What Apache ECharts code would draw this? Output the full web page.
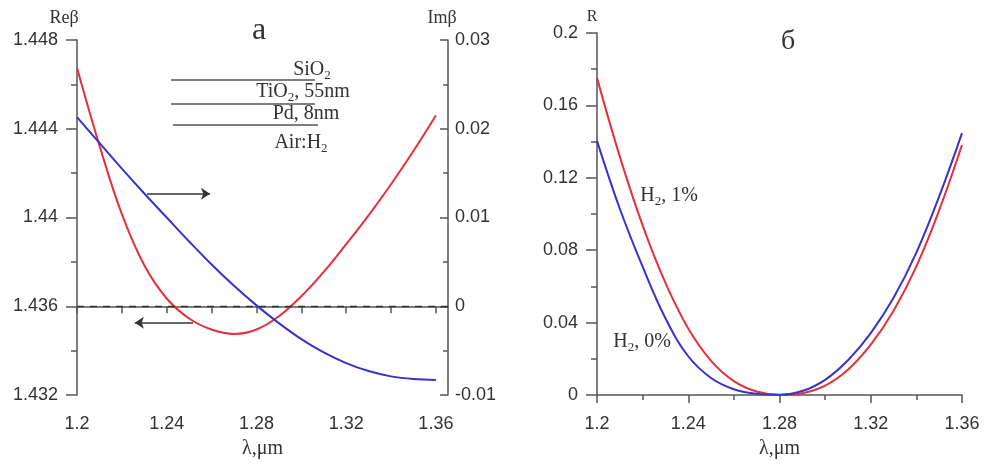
<!DOCTYPE html>
<html>
<head>
<meta charset="utf-8">
<script src="https://cdn.jsdelivr.net/npm/echarts@6/dist/echarts.min.js"></script>
<style>
html, body { margin: 0; padding: 0; background: #fff; }
#chart { width: 985px; height: 464px; }
</style>
</head>
<body>
<div id="chart"></div>
<script>
// wavelength, um (shared by all curves)
const lambda = [1.20, 1.21, 1.22, 1.23, 1.24, 1.25, 1.26, 1.27, 1.28, 1.29, 1.30, 1.31, 1.32, 1.33, 1.34, 1.35, 1.36]
// panel a
const reBeta = [1.44675, 1.44325, 1.44015, 1.43785, 1.43635, 1.43545, 1.43495, 1.43475, 1.43495, 1.43555, 1.43645, 1.43755, 1.43880, 1.44010, 1.44150, 1.44300, 1.44460]
const imBeta = [0.0213, 0.0184, 0.0155, 0.0127, 0.0100, 0.0073, 0.0047, 0.0023, 0.0001, -0.0019, -0.0037, -0.0052, -0.0064, -0.0073, -0.0079, -0.0082, -0.0083]
// panel б
const rH2_1 = [0.1752, 0.1317, 0.0937, 0.0619, 0.0367, 0.0189, 0.0077, 0.0019, 0.0000, 0.0010, 0.0052, 0.0140, 0.0278, 0.0466, 0.0711, 0.1021, 0.1381]
const rH2_0 = [0.1404, 0.1029, 0.0709, 0.0424, 0.0214, 0.0094, 0.0032, 0.0007, 0.0002, 0.0022, 0.0084, 0.0192, 0.0342, 0.0537, 0.0787, 0.1097, 0.1447]
// tick labels
const xLabels = [1.2, 1.24, 1.28, 1.32, 1.36]
const xTicks = [1.2, 1.22, 1.24, 1.26, 1.28, 1.30, 1.32, 1.34, 1.36]

const RED = '#e5303c'
const BLUE = '#3a32c8'
const AXIS = '#555'
const SANS = 'Liberation Sans, Arial, sans-serif'
const SERIF = 'Liberation Serif, Times New Roman, serif'

const pairs = (ys) => lambda.map((l, i) => [l, ys[i]])

const axisLine = { show: true, lineStyle: { color: AXIS, width: 1.5 } }
const tickStyle = { color: AXIS, width: 1.5 }
const labelStyle = { color: '#333', fontSize: 18, fontFamily: SANS }
const nameStyle = { color: '#333', fontSize: 20, fontFamily: SERIF }

const sub = (x, y, parts) => ({
  type: 'text', x: x, y: y,
  style: {
    text: parts, textAlign: 'center', textVerticalAlign: 'middle', fill: '#333',
    rich: {
      n: { fontSize: 20, fontFamily: SERIF, lineHeight: 24, fill: '#333' },
      s: { fontSize: 13, fontFamily: SERIF, lineHeight: 12, verticalAlign: 'bottom', fill: '#333' }
    }
  }
})
const txt = (x, y, t, size) => ({
  type: 'text', x: x, y: y,
  style: { text: t, textAlign: 'center', textVerticalAlign: 'middle', fill: '#333', font: size + 'px ' + SERIF }
})
const hline = (x1, x2, y) => ({
  type: 'line', shape: { x1: x1, y1: y, x2: x2, y2: y },
  style: { stroke: AXIS, lineWidth: 1.5 }
})

var myChart = echarts.init(document.getElementById('chart'))
let option = {
  animation: false,
  grid: [
    { left: 77, top: 40, width: 371, height: 358 },
    { left: 597, top: 33, width: 365, height: 365 }
  ],
  xAxis: [
    {
      gridIndex: 0, type: 'value', min: 1.2, max: 1.3654,
      axisLine: axisLine,
      axisTick: { show: true, customValues: xTicks, length: 7, lineStyle: tickStyle },
      axisLabel: Object.assign({ customValues: xLabels, margin: 20 }, labelStyle),
      splitLine: { show: false },
      name: 'λ,μm', nameLocation: 'middle', nameGap: 44, nameTextStyle: nameStyle
    },
    {
      gridIndex: 1, type: 'value', min: 1.2, max: 1.36, interval: 0.04,
      axisLine: axisLine,
      axisTick: { show: true, length: 8, lineStyle: tickStyle },
      minorTick: { show: true, splitNumber: 2, length: 5, lineStyle: tickStyle },
      axisLabel: Object.assign({ margin: 20 }, labelStyle),
      splitLine: { show: false },
      name: 'λ,μm', nameLocation: 'middle', nameGap: 44, nameTextStyle: nameStyle
    }
  ],
  yAxis: [
    {
      gridIndex: 0, type: 'value', min: 1.432, max: 1.448, interval: 0.004,
      axisLine: axisLine,
      axisTick: { show: true, length: 11, lineStyle: tickStyle },
      minorTick: { show: true, splitNumber: 2, length: 6, lineStyle: tickStyle },
      axisLabel: Object.assign({ margin: 19 }, labelStyle),
      splitLine: { show: false }
    },
    {
      gridIndex: 0, type: 'value', position: 'right', min: -0.01, max: 0.03, interval: 0.01,
      axisLine: axisLine,
      axisTick: { show: true, inside: true, length: 8, lineStyle: tickStyle },
      minorTick: { show: true, splitNumber: 2, length: 5, lineStyle: tickStyle },
      axisLabel: Object.assign({ margin: 7 }, labelStyle),
      splitLine: { show: false }
    },
    {
      gridIndex: 1, type: 'value', min: 0, max: 0.2, interval: 0.04,
      axisLine: axisLine,
      axisTick: { show: true, length: 11, lineStyle: tickStyle },
      minorTick: { show: true, splitNumber: 2, length: 6, lineStyle: tickStyle },
      axisLabel: Object.assign({ margin: 19 }, labelStyle),
      splitLine: { show: false }
    }
  ],
  series: [
    {
      name: 'Reβ', type: 'line', xAxisIndex: 0, yAxisIndex: 0,
      data: pairs(reBeta), smooth: 0.4, showSymbol: false,
      lineStyle: { color: RED, width: 2 }, itemStyle: { color: RED },
      markLine: {
        silent: true, symbol: ['none', 'none'], symbolSize: 9, label: { show: false },
        lineStyle: { color: '#333', width: 1.5, type: 'solid' },
        data: [[
          { coord: [1.2517, 1.43526] },
          { coord: [1.2258, 1.43526], symbol: 'arrow' }
        ]]
      }
    },
    {
      name: 'Imβ', type: 'line', xAxisIndex: 0, yAxisIndex: 1,
      data: pairs(imBeta), smooth: 0.4, showSymbol: false,
      lineStyle: { color: BLUE, width: 2 }, itemStyle: { color: BLUE },
      markLine: {
        silent: true, symbol: ['none', 'none'], symbolSize: 9, label: { show: false },
        lineStyle: { color: '#333', width: 1.5, type: 'solid' },
        data: [
          { yAxis: 0, lineStyle: { color: '#333', width: 1.3, type: [7, 6] } },
          [
            { coord: [1.2312, 0.01268] },
            { coord: [1.2593, 0.01268], symbol: 'arrow' }
          ]
        ]
      }
    },
    {
      name: 'H2, 1%', type: 'line', xAxisIndex: 1, yAxisIndex: 2,
      data: pairs(rH2_1), smooth: 0.4, showSymbol: false,
      lineStyle: { color: RED, width: 2 }, itemStyle: { color: RED }
    },
    {
      name: 'H2, 0%', type: 'line', xAxisIndex: 1, yAxisIndex: 2,
      data: pairs(rH2_0), smooth: 0.4, showSymbol: false,
      lineStyle: { color: BLUE, width: 2 }, itemStyle: { color: BLUE }
    }
  ],
  graphic: [
    txt(64, 18, 'Reβ', 18),
    txt(442, 18, 'Imβ', 18),
    txt(592, 17, 'R', 16),
    txt(259, 31, 'a', 32),
    txt(788, 42, 'б', 28),
    hline(171, 315, 80),
    hline(171, 315, 104),
    hline(173, 318, 125),
    sub(312, 70, '{n|SiO}{s|2}'),
    sub(303, 92, '{n|TiO}{s|2}{n|, 55nm}'),
    txt(306, 114, 'Pd, 8nm', 20),
    sub(301, 143, '{n|Air:H}{s|2}'),
    sub(669, 196, '{n|H}{s|2}{n|, 1%}'),
    sub(642, 342, '{n|H}{s|2}{n|, 0%}')
  ]
}
myChart.setOption(option)
</script>
</body>
</html>
